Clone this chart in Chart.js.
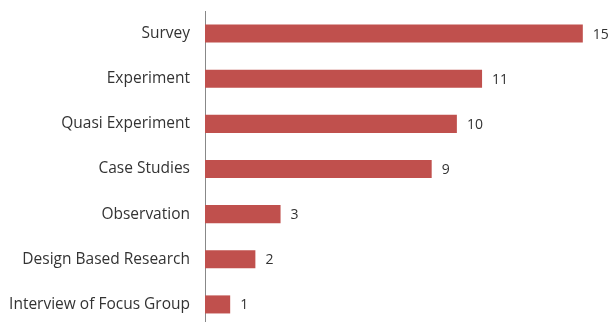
<!DOCTYPE html>
<html>
<head>
<meta charset="utf-8">
<script src="https://cdn.jsdelivr.net/npm/chart.js@4.4.1/dist/chart.umd.min.js"></script>
<style>
  html, body { margin: 0; padding: 0; background: #fff; overflow: hidden; }
</style>
</head>
<body>
<canvas id="methodsBar" width="609" height="340"></canvas>
<script>
const categories = ['Survey', 'Experiment', 'Quasi Experiment', 'Case Studies', 'Observation', 'Design Based Research', 'Interview of Focus Group'];
const counts = [15, 11, 10, 9, 3, 2, 1];

// draw the count next to each bar
const valueLabels = {
    id: 'valueLabels',
    afterDatasetsDraw(chart) {
        const ctx = chart.ctx;
        const meta = chart.getDatasetMeta(0);
        ctx.save();
        ctx.font = '14px "Open Sans", sans-serif';
        ctx.fillStyle = '#333333';
        ctx.textBaseline = 'middle';
        meta.data.forEach((bar, i) => {
            ctx.fillText(String(counts[i]), bar.x + 10, bar.y + 1);
        });
        ctx.restore();
    }
};

window.addEventListener('load', () => {
    var ctx = document.getElementById('methodsBar');

    new Chart(ctx, {
        type: 'bar',
        data: {
            labels: categories,
            datasets: [{
                label: 'Studies',
                data: counts,
                backgroundColor: '#C0504D',
                borderWidth: 0,
                barPercentage: 0.8,
                categoryPercentage: 0.5
            }]
        },
        options: {
            indexAxis: 'y',
            responsive: false,
            animation: false,
            layout: { padding: { top: 11, bottom: 13, left: 0, right: 1 } },
            plugins: {
                legend: { display: false },
                tooltip: { enabled: false }
            },
            scales: {
                x: {
                    display: false,
                    min: 0,
                    max: 16
                },
                y: {
                    afterFit: (scale) => {
                        scale.width = 205;
                        scale.paddingTop = 0;
                        scale.paddingBottom = 0;
                    },
                    grid: { drawOnChartArea: false, drawTicks: false },
                    border: { display: true, color: '#888888', width: 1 },
                    ticks: {
                        color: '#333333',
                        padding: 15,
                        font: { family: 'Open Sans', size: 15.5 }
                    }
                }
            }
        },
        plugins: [valueLabels]
    });
});
</script>
</body>
</html>
